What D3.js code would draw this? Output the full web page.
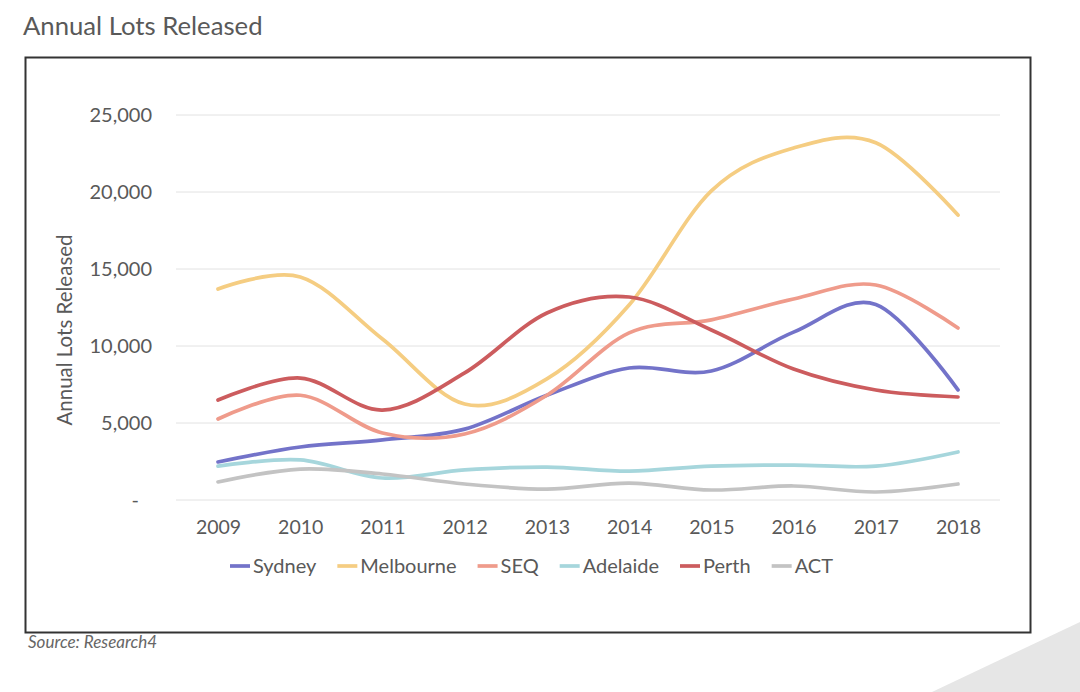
<!DOCTYPE html>
<html><head><meta charset="utf-8">
<script src="https://cdn.jsdelivr.net/npm/d3@7"></script>
<style>body{margin:0;background:#fff;}svg{display:block;font-family:Lato,"Open Sans",sans-serif;}</style>
</head><body><svg id="c" width="1080" height="692"></svg>
<script>
const years = ["2009","2010","2011","2012","2013","2014","2015","2016","2017","2018"];
const yTicks = [0,5000,10000,15000,20000,25000];
const seriesNames = ["Sydney","Melbourne","SEQ","Adelaide","Perth","ACT"];
const seriesColors = ["#7373c9","#f5cd82","#ef9b8b","#a6d6dc","#cc5c5e","#c3c3c3"];
const sydney    = [2470,3440,3900,4600,6800,8570,8380,10900,12700,7150];
const melbourne = [13700,14480,10450,6230,7860,12660,20070,22860,23200,18500];
const seq       = [5260,6800,4350,4290,6800,10850,11700,13050,13960,11170];
const adelaide  = [2200,2600,1430,1950,2140,1880,2200,2270,2200,3120];
const perth     = [6490,7920,5840,8250,12140,13180,11040,8500,7140,6690];
const act       = [1170,2010,1690,1040,710,1100,650,910,520,1040];
const seriesValues = [sydney,melbourne,seq,adelaide,perth,act];

const svg = d3.select("#c");
svg.append("polygon").attr("points","932,692 1080,622 1080,692").attr("fill","#e6e6e6");
svg.append("text").attr("x",23).attr("y",35).attr("font-size",25.7).attr("fill","#595959").text("Annual Lots Released");
svg.append("rect").attr("x",25.5).attr("y",57.5).attr("width",1005).attr("height",575)
  .attr("fill","#fff").attr("stroke","#333").attr("stroke-width",2);

const x = d3.scalePoint().domain(years).range([218,958]);
const y = d3.scaleLinear().domain([0,25000]).range([500,115]);

svg.append("g").selectAll("line").data(yTicks).join("line")
  .attr("x1",176).attr("x2",1000).attr("y1",d=>y(d)).attr("y2",d=>y(d))
  .attr("stroke","#e2e2e2").attr("stroke-width",1);

const yAxis = svg.append("g").attr("transform","translate(162,0)")
  .call(d3.axisLeft(y).tickValues(yTicks).tickSize(0).tickPadding(10)
    .tickFormat(d=> d===0 ? "-" : d3.format(",")(d)));
yAxis.select(".domain").remove();
yAxis.selectAll("text").attr("font-size",20).attr("fill","#595959").attr("font-family","Lato,'Open Sans',sans-serif");
yAxis.selectAll(".tick").filter(d=>d===0).select("text").attr("dx",-13);

const xAxis = svg.append("g").attr("transform","translate(0,516)")
  .call(d3.axisBottom(x).tickSize(0).tickPadding(4));
xAxis.select(".domain").remove();
xAxis.selectAll("text").attr("font-size",19.5).attr("fill","#595959").attr("font-family","Lato,'Open Sans',sans-serif");

svg.append("text").attr("transform","translate(72,330) rotate(-90)").attr("text-anchor","middle")
  .attr("font-size",20.5).attr("fill","#595959").text("Annual Lots Released");

const line = d3.line().x((d,i)=>x(years[i])).y(d=>y(d)).curve(d3.curveCardinal.tension(0));
svg.append("g").selectAll("path").data(seriesValues).join("path")
  .attr("d",d=>line(d)).attr("fill","none")
  .attr("stroke",(d,i)=>seriesColors[i]).attr("stroke-width",3.7).attr("stroke-linecap","round");

const lg = svg.append("g");
let lx = 230;
seriesNames.forEach((n,i)=>{
  lg.append("line").attr("x1",lx).attr("x2",lx+20).attr("y1",566).attr("y2",566)
    .attr("stroke",seriesColors[i]).attr("stroke-width",3.7);
  const t = lg.append("text").attr("x",lx+23).attr("y",573).attr("font-size",20).attr("fill","#595959").text(n);
  lx += 23 + t.node().getComputedTextLength() + 21;
});

svg.append("text").attr("x",28).attr("y",648).attr("font-size",17).attr("font-style","italic")
  .attr("fill","#666").text("Source: Research4");
</script></body></html>
